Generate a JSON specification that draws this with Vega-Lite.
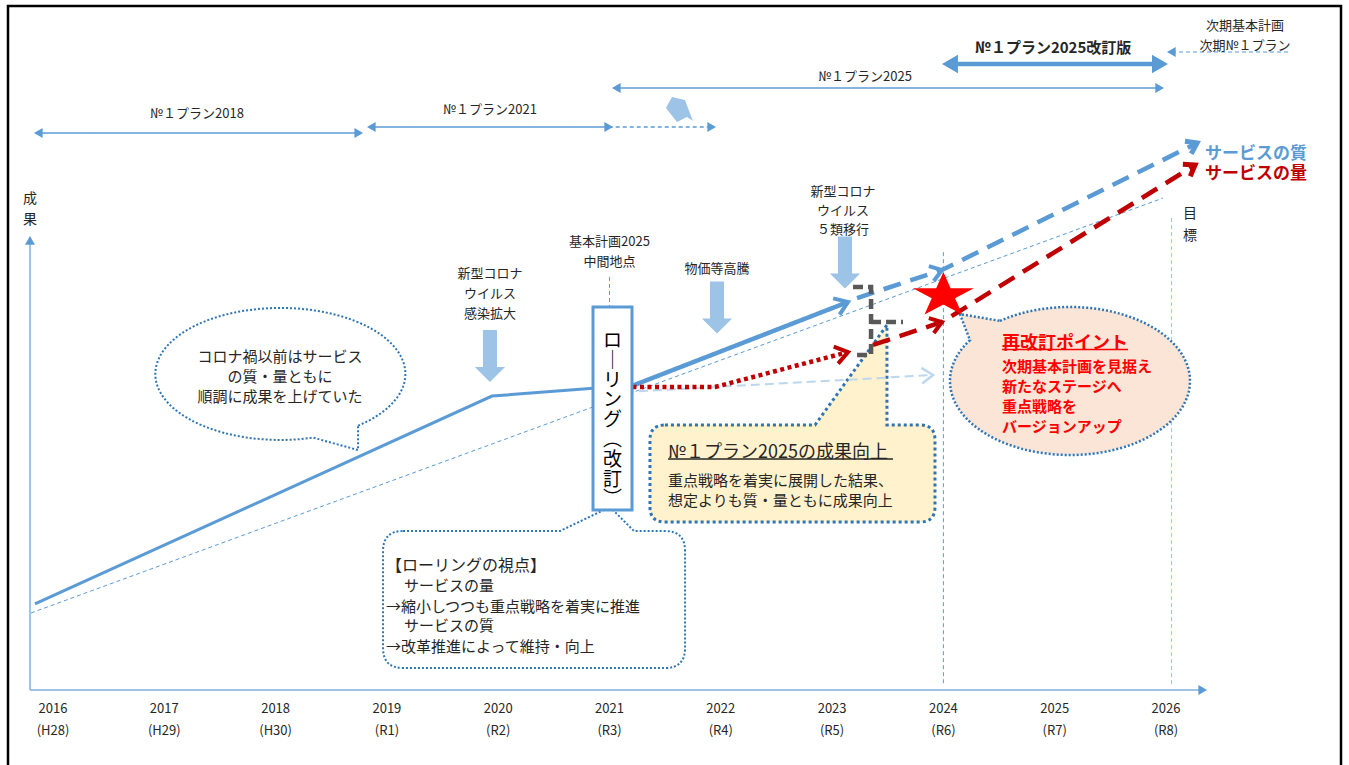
{
  "$schema": "https://vega.github.io/schema/vega-lite/v6.json",
  "width": 1349,
  "height": 765,
  "padding": 0,
  "autosize": {"type": "none"},
  "background": "white",
  "config": {"view": {"stroke": null}, "text": {"font": "Noto Sans CJK JP", "color": "#262626"}},
  "encoding": {
    "x": {"field": "year", "type": "quantitative", "scale": {"domain": [2015.5238, 2027.6442], "nice": false, "zero": false}, "axis": null},
    "y": {"field": "v", "type": "quantitative", "scale": {"domain": [-13.636, 125.4545], "nice": false, "zero": false}, "axis": null}
  },
  "resolve": {"scale": {"color": "independent", "strokeDash": "independent", "shape": "independent"}},
  "datasets": {
    "shapes": [
      {"id": "枠", "year": 2021.584, "v": 55.09},
      {"id": "吹出1", "year": 2018.04, "v": 57.45},
      {"id": "吹出2", "year": 2020.322, "v": 16.45},
      {"id": "吹出3", "year": 2022.644, "v": 39.36},
      {"id": "吹出4", "year": 2025.137, "v": 56.18},
      {"id": "ローリング", "year": 2021.027, "v": 51.18},
      {"id": "下矢印", "year": 2019.926, "v": 60.73},
      {"id": "下矢印", "year": 2021.966, "v": 69.55},
      {"id": "下矢印", "year": 2023.116, "v": 77.73},
      {"id": "斜矢印", "year": 2021.633, "v": 105.45},
      {"id": "星", "year": 2024.0, "v": 71.73}
    ],
    "lines": [
      {"s": "中間地点", "o": 1, "year": 2021.0, "v": 75.1},
      {"s": "中間地点", "o": 2, "year": 2021.0, "v": 69.6},
      {"s": "2024目盛", "o": 1, "year": 2024.0, "v": 79.6},
      {"s": "2024目盛", "o": 2, "year": 2024.0, "v": 0.9},
      {"s": "2026目盛", "o": 1, "year": 2026.05, "v": 85.8},
      {"s": "2026目盛", "o": 2, "year": 2026.05, "v": 0.9},
      {"s": "計画", "o": 1, "year": 2015.802, "v": 14.0},
      {"s": "計画", "o": 2, "year": 2025.973, "v": 89.45},
      {"s": "次期", "o": 1, "year": 2026.054, "v": 116.0},
      {"s": "次期", "o": 2, "year": 2027.114, "v": 116.0},
      {"s": "2018", "o": 1, "year": 2015.868, "v": 101.27},
      {"s": "2018", "o": 2, "year": 2018.747, "v": 101.27},
      {"s": "2021", "o": 1, "year": 2018.86, "v": 102.36},
      {"s": "2021", "o": 2, "year": 2020.993, "v": 102.36},
      {"s": "2021延長", "o": 1, "year": 2020.993, "v": 102.36},
      {"s": "2021延長", "o": 2, "year": 2021.918, "v": 102.36},
      {"s": "2025", "o": 1, "year": 2021.061, "v": 109.45},
      {"s": "2025", "o": 2, "year": 2025.943, "v": 109.45},
      {"s": "x軸", "o": 1, "year": 2015.793, "v": 0},
      {"s": "x軸", "o": 2, "year": 2026.306, "v": 0},
      {"s": "y軸", "o": 1, "year": 2015.793, "v": 0},
      {"s": "y軸", "o": 2, "year": 2015.793, "v": 81.8},
      {"s": "想定", "o": 1, "year": 2021.139, "v": 54.18},
      {"s": "想定", "o": 2, "year": 2023.907, "v": 57.27},
      {"s": "質実績", "o": 1, "year": 2015.838, "v": 15.64},
      {"s": "質実績", "o": 2, "year": 2019.944, "v": 53.45},
      {"s": "質実績", "o": 3, "year": 2021.0, "v": 55.1},
      {"s": "質実績2", "o": 1, "year": 2021.0, "v": 53.7},
      {"s": "質実績2", "o": 2, "year": 2023.143, "v": 70.55},
      {"s": "2025改訂版", "o": 1, "year": 2024.059, "v": 113.82},
      {"s": "2025改訂版", "o": 2, "year": 2025.946, "v": 113.82},
      {"s": "量実績", "o": 1, "year": 2021.139, "v": 55.09},
      {"s": "量実績", "o": 2, "year": 2021.948, "v": 55.09},
      {"s": "量実績", "o": 3, "year": 2023.143, "v": 61.45},
      {"s": "質見込", "o": 1, "year": 2023.224, "v": 71.27},
      {"s": "質見込", "o": 2, "year": 2023.987, "v": 76.36},
      {"s": "質見込", "o": 3, "year": 2026.279, "v": 99.45},
      {"s": "量見込", "o": 1, "year": 2023.367, "v": 62.73},
      {"s": "量見込", "o": 2, "year": 2023.987, "v": 66.91},
      {"s": "量見込", "o": 3, "year": 2026.261, "v": 95.45},
      {"s": "灰1", "o": 1, "year": 2023.188, "v": 73.27},
      {"s": "灰1", "o": 2, "year": 2023.35, "v": 73.27},
      {"s": "灰1", "o": 3, "year": 2023.35, "v": 60.91},
      {"s": "灰1", "o": 4, "year": 2023.224, "v": 60.91},
      {"s": "灰2", "o": 1, "year": 2023.35, "v": 66.91},
      {"s": "灰2", "o": 2, "year": 2023.637, "v": 66.91}
    ],
    "tri": [
      {"d": "left", "k": "s", "year": 2015.868, "v": 101.27},
      {"d": "right", "k": "s", "year": 2018.747, "v": 101.27},
      {"d": "left", "k": "s", "year": 2018.86, "v": 102.36},
      {"d": "right", "k": "s", "year": 2020.993, "v": 102.36},
      {"d": "right", "k": "s", "year": 2021.918, "v": 102.36},
      {"d": "left", "k": "s", "year": 2021.061, "v": 109.45},
      {"d": "right", "k": "s", "year": 2025.943, "v": 109.45},
      {"d": "left", "k": "s", "year": 2026.048, "v": 116.0},
      {"d": "up", "k": "s", "year": 2015.793, "v": 81.76},
      {"d": "right", "k": "s", "year": 2026.33, "v": 0},
      {"d": "left", "k": "l", "year": 2024.059, "v": 113.82},
      {"d": "right", "k": "l", "year": 2025.946, "v": 113.82}
    ],
    "chev": [
      {"id": "c1", "year": 2023.143, "v": 70.55},
      {"id": "c2", "year": 2023.143, "v": 61.45},
      {"id": "c3", "year": 2023.907, "v": 57.27},
      {"id": "c4", "year": 2023.987, "v": 76.36},
      {"id": "c5", "year": 2023.987, "v": 66.91},
      {"id": "c6", "year": 2026.279, "v": 99.45},
      {"id": "c7", "year": 2026.261, "v": 95.45}
    ],
    "ul": [
      {"u": "黒", "o": 1, "year": 2021.526, "v": 42.0},
      {"u": "黒", "o": 2, "year": 2023.547, "v": 42.0},
      {"u": "赤", "o": 1, "year": 2024.527, "v": 61.9},
      {"u": "赤", "o": 2, "year": 2025.659, "v": 61.9}
    ],
    "texts": [
      {"g": "plan", "t": "№１プラン2018", "year": 2017.294, "v": 104.73},
      {"g": "plan", "t": "№１プラン2021", "year": 2019.926, "v": 105.45},
      {"g": "plan", "t": "№１プラン2025", "year": 2023.296, "v": 111.45},
      {"g": "plan", "t": "次期基本計画", "year": 2026.71, "v": 120.73},
      {"g": "plan", "t": "次期№１プラン", "year": 2026.71, "v": 117.09},
      {"g": "plan", "t": "新型コロナ", "year": 2019.926, "v": 75.64},
      {"g": "plan", "t": "ウイルス", "year": 2019.926, "v": 72.0},
      {"g": "plan", "t": "感染拡大", "year": 2019.926, "v": 68.36},
      {"g": "plan", "t": "基本計画2025", "year": 2021.0, "v": 81.45},
      {"g": "plan", "t": "中間地点", "year": 2021.0, "v": 77.82},
      {"g": "plan", "t": "物価等高騰", "year": 2021.966, "v": 76.55},
      {"g": "plan", "t": "新型コロナ", "year": 2023.098, "v": 90.55},
      {"g": "plan", "t": "ウイルス", "year": 2023.098, "v": 87.09},
      {"g": "plan", "t": "５類移行", "year": 2023.098, "v": 83.64},
      {"g": "plan", "t": "2016", "year": 2016, "v": -3.455},
      {"g": "plan", "t": "2017", "year": 2017, "v": -3.455},
      {"g": "plan", "t": "2018", "year": 2018, "v": -3.455},
      {"g": "plan", "t": "2019", "year": 2019, "v": -3.455},
      {"g": "plan", "t": "2020", "year": 2020, "v": -3.455},
      {"g": "plan", "t": "2021", "year": 2021, "v": -3.455},
      {"g": "plan", "t": "2022", "year": 2022, "v": -3.455},
      {"g": "plan", "t": "2023", "year": 2023, "v": -3.455},
      {"g": "plan", "t": "2024", "year": 2024, "v": -3.455},
      {"g": "plan", "t": "2025", "year": 2025, "v": -3.455},
      {"g": "plan", "t": "2026", "year": 2026, "v": -3.455},
      {"g": "plan", "t": "(H28)", "year": 2016, "v": -7.455},
      {"g": "plan", "t": "(H29)", "year": 2017, "v": -7.455},
      {"g": "plan", "t": "(H30)", "year": 2018, "v": -7.455},
      {"g": "plan", "t": "(R1)", "year": 2019, "v": -7.455},
      {"g": "plan", "t": "(R2)", "year": 2020, "v": -7.455},
      {"g": "plan", "t": "(R3)", "year": 2021, "v": -7.455},
      {"g": "plan", "t": "(R4)", "year": 2022, "v": -7.455},
      {"g": "plan", "t": "(R5)", "year": 2023, "v": -7.455},
      {"g": "plan", "t": "(R6)", "year": 2024, "v": -7.455},
      {"g": "plan", "t": "(R7)", "year": 2025, "v": -7.455},
      {"g": "plan", "t": "(R8)", "year": 2026, "v": -7.455},
      {"g": "axis", "t": "成", "year": 2015.793, "v": 89.27},
      {"g": "axis", "t": "果", "year": 2015.793, "v": 85.45},
      {"g": "axis", "t": "目", "year": 2026.216, "v": 86.55},
      {"g": "axis", "t": "標", "year": 2026.216, "v": 82.55},
      {"g": "bubble", "t": "コロナ禍以前はサービス", "year": 2018.04, "v": 60.55},
      {"g": "bubble", "t": "の質・量ともに", "year": 2018.04, "v": 56.91},
      {"g": "bubble", "t": "順調に成果を上げていた", "year": 2018.04, "v": 53.27},
      {"g": "bold", "t": "№１プラン2025改訂版", "year": 2024.985, "v": 116.73},
      {"g": "roll", "t": "ロ", "year": 2021.027, "v": 63.45},
      {"g": "roll", "t": "｜", "year": 2021.027, "v": 59.85},
      {"g": "roll", "t": "リ", "year": 2021.027, "v": 56.25},
      {"g": "roll", "t": "ン", "year": 2021.027, "v": 52.65},
      {"g": "roll", "t": "グ", "year": 2021.027, "v": 49.05},
      {"g": "roll", "t": "︵", "year": 2021.027, "v": 45.45},
      {"g": "roll", "t": "改", "year": 2021.027, "v": 41.85},
      {"g": "roll", "t": "訂", "year": 2021.027, "v": 38.25},
      {"g": "roll", "t": "︶", "year": 2021.027, "v": 34.65},
      {"g": "h1", "t": "【ローリングの視点】", "year": 2018.992, "v": 22.55},
      {"g": "body", "t": "サービスの量", "year": 2019.154, "v": 18.91},
      {"g": "body", "t": "→縮小しつつも重点戦略を着実に推進", "year": 2018.992, "v": 15.09},
      {"g": "body", "t": "サービスの質", "year": 2019.154, "v": 11.64},
      {"g": "body", "t": "→改革推進によって維持・向上", "year": 2018.992, "v": 7.82},
      {"g": "h2", "t": "№１プラン2025の成果向上", "year": 2021.526, "v": 43.09},
      {"g": "body", "t": "重点戦略を着実に展開した結果、", "year": 2021.526, "v": 38.0},
      {"g": "body", "t": "想定よりも質・量ともに成果向上", "year": 2021.526, "v": 34.36},
      {"g": "rh", "t": "再改訂ポイント", "year": 2024.527, "v": 62.91},
      {"g": "rb", "t": "次期基本計画を見据え", "year": 2024.527, "v": 58.73},
      {"g": "rb", "t": "新たなステージへ", "year": 2024.527, "v": 55.09},
      {"g": "rb", "t": "重点戦略を", "year": 2024.527, "v": 51.45},
      {"g": "rb", "t": "バージョンアップ", "year": 2024.527, "v": 47.82},
      {"g": "leg", "t": "サービスの質", "year": 2026.35, "v": 97.45},
      {"g": "leg", "t": "サービスの量", "year": 2026.35, "v": 93.82}
    ]
  },
  "layer": [
    {"data": {"name": "shapes"}, "transform": [{"filter": {"field": "id", "equal": "枠"}}],
     "mark": {"type": "point", "shape": "M-1,-0.5716L1,-0.5716L1,0.5716L-1,0.5716Z", "size": 1776889, "filled": false, "stroke": "#000000", "strokeWidth": 2.5, "opacity": 1}},
    {"data": {"name": "lines"}, "transform": [{"filter": {"field": "s", "oneOf": ["中間地点", "2024目盛", "2026目盛"]}}],
     "mark": {"type": "line", "strokeWidth": 1, "strokeDash": [4, 3]},
     "encoding": {"color": {"field": "s", "type": "nominal", "scale": {"domain": ["中間地点", "2024目盛", "2026目盛"], "range": ["#5b9bd5", "#5b9bd5", "#9dc3e6"]}, "legend": null}, "order": {"field": "o", "type": "quantitative"}}},
    {"data": {"name": "shapes"}, "transform": [{"filter": {"field": "id", "equal": "吹出1"}}],
     "mark": {"type": "point", "shape": "M0.624,0.413A1,0.528,0,1,0,0.264,0.509L0.624,0.608Z", "size": 62500, "filled": true, "fill": "#ffffff", "stroke": "#2e75b6", "strokeWidth": 2, "strokeDash": [2, 2], "opacity": 1}},
    {"data": {"name": "shapes"}, "transform": [{"filter": {"field": "id", "equal": "吹出2"}}],
     "mark": {"type": "point", "shape": "M-0.8675,-0.4536L0.172,-0.4536L0.503,-0.6126L0.662,-0.4536L0.8675,-0.4536Q1,-0.4536,1,-0.3211L1,0.3211Q1,0.4536,0.8675,0.4536L-0.8675,0.4536Q-1,0.4536,-1,0.3211L-1,-0.3211Q-1,-0.4536,-0.8675,-0.4536Z", "size": 91204, "filled": true, "fill": "#ffffff", "stroke": "#2e75b6", "strokeWidth": 2, "strokeDash": [2, 2], "opacity": 1}},
    {"data": {"name": "shapes"}, "transform": [{"filter": {"field": "id", "equal": "吹出3"}}],
     "mark": {"type": "point", "shape": "M-0.895,-0.3404L0.158,-0.3404L0.663,-1.042L0.663,-0.3404L0.895,-0.3404Q1,-0.3404,1,-0.2354L1,0.2354Q1,0.3404,0.895,0.3404L-0.895,0.3404Q-1,0.3404,-1,0.2354L-1,-0.2354Q-1,-0.3404,-0.895,-0.3404Z", "size": 81225, "filled": true, "fill": "#fff2cc", "stroke": "#2e75b6", "strokeWidth": 3, "strokeDash": [3, 3], "opacity": 1}},
    {"data": {"name": "shapes"}, "transform": [{"filter": {"field": "id", "equal": "吹出4"}}],
     "mark": {"type": "point", "shape": "M-0.583,-0.501A1,0.6167,0,1,1,-0.833,-0.341L-0.917,-0.558Z", "size": 57600, "filled": true, "fill": "#fbe5d6", "stroke": "#2e75b6", "strokeWidth": 2.5, "strokeDash": [2, 2], "opacity": 1}},
    {"data": {"name": "lines"}, "transform": [{"filter": {"field": "s", "oneOf": ["計画", "次期"]}}],
     "mark": {"type": "line", "strokeWidth": 1, "strokeDash": [4, 3], "color": "#5b9bd5"},
     "encoding": {"detail": {"field": "s", "type": "nominal"}, "order": {"field": "o", "type": "quantitative"}}},
    {"data": {"name": "lines"}, "transform": [{"filter": {"field": "s", "oneOf": ["2018", "2021", "2021延長", "2025"]}}],
     "mark": {"type": "line", "strokeWidth": 1.5, "color": "#5b9bd5"},
     "encoding": {"detail": {"field": "s", "type": "nominal"}, "strokeDash": {"field": "s", "type": "nominal", "scale": {"domain": ["2018", "2021", "2021延長", "2025"], "range": [[1, 0], [1, 0], [4, 3], [1, 0]]}, "legend": null}, "order": {"field": "o", "type": "quantitative"}}},
    {"data": {"name": "lines"}, "transform": [{"filter": {"field": "s", "oneOf": ["x軸", "y軸", "想定"]}}],
     "mark": {"type": "line", "strokeWidth": 2},
     "encoding": {"color": {"field": "s", "type": "nominal", "scale": {"domain": ["x軸", "y軸", "想定"], "range": ["#9dc3e6", "#9dc3e6", "#bdd7ee"]}, "legend": null}, "strokeDash": {"field": "s", "type": "nominal", "scale": {"domain": ["x軸", "y軸", "想定"], "range": [[1, 0], [1, 0], [9, 5]]}, "legend": null}, "order": {"field": "o", "type": "quantitative"}}},
    {"data": {"name": "lines"}, "transform": [{"filter": {"field": "s", "equal": "質実績"}}],
     "mark": {"type": "line", "strokeWidth": 3, "color": "#5b9bd5"},
     "encoding": {"order": {"field": "o", "type": "quantitative"}}},
    {"data": {"name": "lines"}, "transform": [{"filter": {"field": "s", "oneOf": ["質実績2", "2025改訂版", "量実績", "質見込", "量見込", "灰1", "灰2"]}}],
     "mark": {"type": "line", "strokeWidth": 4.5},
     "encoding": {"color": {"field": "s", "type": "nominal", "scale": {"domain": ["質実績2", "2025改訂版", "量実績", "質見込", "量見込", "灰1", "灰2"], "range": ["#5b9bd5", "#5b9bd5", "#c00000", "#5b9bd5", "#c00000", "#595959", "#595959"]}, "legend": null}, "strokeDash": {"field": "s", "type": "nominal", "scale": {"domain": ["質実績2", "2025改訂版", "量実績", "質見込", "量見込", "灰1", "灰2"], "range": [[1, 0], [1, 0], [4, 3.5], [18, 10], [18, 10], [10, 5], [10, 5]]}, "legend": null}, "order": {"field": "o", "type": "quantitative"}}},
    {"data": {"name": "shapes"}, "transform": [{"filter": {"field": "id", "equal": "ローリング"}}],
     "mark": {"type": "point", "shape": "M-1,-5.205L1,-5.205L1,5.205L-1,5.205Z", "size": 1521, "filled": true, "fill": "#ffffff", "stroke": "#5b9bd5", "strokeWidth": 3, "opacity": 1}},
    {"data": {"name": "shapes"}, "transform": [{"filter": {"field": "id", "equal": "下矢印"}}],
     "mark": {"type": "point", "shape": "M-0.27,-1L0.27,-1L0.27,0.42L0.58,0.42L0,1L-0.58,0.42L-0.27,0.42Z", "size": 2704, "filled": true, "fill": "#9dc3e6", "strokeWidth": 0, "opacity": 1}},
    {"data": {"name": "shapes"}, "transform": [{"filter": {"field": "id", "equal": "斜矢印"}}],
     "mark": {"type": "point", "shape": "M-0.875,-0.125L-0.5,-0.8125L0.3125,-0.625L0.8125,0.6875L0.4375,0.4375L-0.1875,0.75Z", "size": 1024, "filled": true, "fill": "#9dc3e6", "strokeWidth": 0, "opacity": 1}},
    {"data": {"name": "shapes"}, "transform": [{"filter": {"field": "id", "equal": "星"}}],
     "mark": {"type": "point", "shape": "M0,-0.7705L0.236,-0.238L1,-0.238L0.382,0.0909L0.618,0.6233L0,0.2943L-0.618,0.6233L-0.382,0.0909L-1,-0.238L-0.236,-0.238Z", "size": 3721, "filled": true, "fill": "#ff0000", "strokeWidth": 0, "opacity": 1}},
    {"data": {"name": "tri"}, "transform": [{"filter": {"field": "k", "equal": "s"}}],
     "mark": {"type": "point", "filled": true, "size": 100, "color": "#5b9bd5", "opacity": 1},
     "encoding": {"shape": {"field": "d", "type": "nominal", "scale": {"domain": ["left", "right", "up"], "range": ["triangle-left", "triangle-right", "triangle-up"]}, "legend": null}}},
    {"data": {"name": "tri"}, "transform": [{"filter": {"field": "k", "equal": "l"}}],
     "mark": {"type": "point", "filled": true, "size": 340, "color": "#5b9bd5", "opacity": 1},
     "encoding": {"shape": {"field": "d", "type": "nominal", "scale": {"domain": ["left", "right"], "range": ["triangle-left", "triangle-right"]}, "legend": null}}},
    {"data": {"name": "chev"}, "transform": [{"filter": {"field": "id", "equal": "c1"}}],
     "mark": {"type": "point", "shape": "M-1,-0.7L0,0L-1,0.7", "size": 625, "filled": false, "stroke": "#5b9bd5", "strokeWidth": 4, "angle": -21.3, "opacity": 1}},
    {"data": {"name": "chev"}, "transform": [{"filter": {"field": "id", "equal": "c2"}}],
     "mark": {"type": "point", "shape": "M-1,-0.7L0,0L-1,0.7", "size": 625, "filled": false, "stroke": "#c00000", "strokeWidth": 4, "angle": -14.7, "opacity": 1}},
    {"data": {"name": "chev"}, "transform": [{"filter": {"field": "id", "equal": "c3"}}],
     "mark": {"type": "point", "shape": "M-1,-0.7L0,0L-1,0.7", "size": 500, "filled": false, "stroke": "#bdd7ee", "strokeWidth": 2.5, "angle": -3.2, "opacity": 1}},
    {"data": {"name": "chev"}, "transform": [{"filter": {"field": "id", "equal": "c4"}}],
     "mark": {"type": "point", "shape": "M-1,-0.7L0,0L-1,0.7", "size": 500, "filled": false, "stroke": "#5b9bd5", "strokeWidth": 4, "angle": -18.2, "opacity": 1}},
    {"data": {"name": "chev"}, "transform": [{"filter": {"field": "id", "equal": "c5"}}],
     "mark": {"type": "point", "shape": "M-1,-0.7L0,0L-1,0.7", "size": 500, "filled": false, "stroke": "#c00000", "strokeWidth": 4, "angle": -18.4, "opacity": 1}},
    {"data": {"name": "chev"}, "transform": [{"filter": {"field": "id", "equal": "c6"}}],
     "mark": {"type": "point", "shape": "M-1,-0.7L0,0L-1,0.7", "size": 400, "filled": false, "stroke": "#5b9bd5", "strokeWidth": 5, "angle": -26.5, "opacity": 1}},
    {"data": {"name": "chev"}, "transform": [{"filter": {"field": "id", "equal": "c7"}}],
     "mark": {"type": "point", "shape": "M-1,-0.7L0,0L-1,0.7", "size": 400, "filled": false, "stroke": "#c00000", "strokeWidth": 5, "angle": -31.8, "opacity": 1}},
    {"data": {"name": "ul"},
     "mark": {"type": "line", "strokeWidth": 1.5},
     "encoding": {"color": {"field": "u", "type": "nominal", "scale": {"domain": ["黒", "赤"], "range": ["#262626", "#ff0000"]}, "legend": null}, "order": {"field": "o", "type": "quantitative"}}},
    {"data": {"name": "texts"}, "transform": [{"filter": {"field": "g", "equal": "plan"}}],
     "mark": {"type": "text", "fontSize": 13},
     "encoding": {"text": {"field": "t", "type": "nominal"}}},
    {"data": {"name": "texts"}, "transform": [{"filter": {"field": "g", "equal": "axis"}}],
     "mark": {"type": "text", "fontSize": 14},
     "encoding": {"text": {"field": "t", "type": "nominal"}}},
    {"data": {"name": "texts"}, "transform": [{"filter": {"field": "g", "equal": "bubble"}}],
     "mark": {"type": "text", "fontSize": 15},
     "encoding": {"text": {"field": "t", "type": "nominal"}}},
    {"data": {"name": "texts"}, "transform": [{"filter": {"field": "g", "equal": "bold"}}],
     "mark": {"type": "text", "fontSize": 15, "fontWeight": "bold"},
     "encoding": {"text": {"field": "t", "type": "nominal"}}},
    {"data": {"name": "texts"}, "transform": [{"filter": {"field": "g", "equal": "roll"}}],
     "mark": {"type": "text", "fontSize": 19, "color": "#000000"},
     "encoding": {"text": {"field": "t", "type": "nominal"}}},
    {"data": {"name": "texts"}, "transform": [{"filter": {"field": "g", "equal": "h1"}}],
     "mark": {"type": "text", "fontSize": 16, "align": "left"},
     "encoding": {"text": {"field": "t", "type": "nominal"}}},
    {"data": {"name": "texts"}, "transform": [{"filter": {"field": "g", "equal": "body"}}],
     "mark": {"type": "text", "fontSize": 15, "align": "left"},
     "encoding": {"text": {"field": "t", "type": "nominal"}}},
    {"data": {"name": "texts"}, "transform": [{"filter": {"field": "g", "equal": "h2"}}],
     "mark": {"type": "text", "fontSize": 18, "align": "left"},
     "encoding": {"text": {"field": "t", "type": "nominal"}}},
    {"data": {"name": "texts"}, "transform": [{"filter": {"field": "g", "equal": "rh"}}],
     "mark": {"type": "text", "fontSize": 18, "fontWeight": "bold", "align": "left", "color": "#ff0000"},
     "encoding": {"text": {"field": "t", "type": "nominal"}}},
    {"data": {"name": "texts"}, "transform": [{"filter": {"field": "g", "equal": "rb"}}],
     "mark": {"type": "text", "fontSize": 15, "fontWeight": "bold", "align": "left", "color": "#ff0000"},
     "encoding": {"text": {"field": "t", "type": "nominal"}}},
    {"data": {"name": "texts"}, "transform": [{"filter": {"field": "g", "equal": "leg"}}],
     "mark": {"type": "text", "fontSize": 17, "fontWeight": "bold", "align": "left"},
     "encoding": {"text": {"field": "t", "type": "nominal"}, "color": {"field": "t", "type": "nominal", "scale": {"domain": ["サービスの質", "サービスの量"], "range": ["#5b9bd5", "#c00000"]}, "legend": null}}}
  ]
}
